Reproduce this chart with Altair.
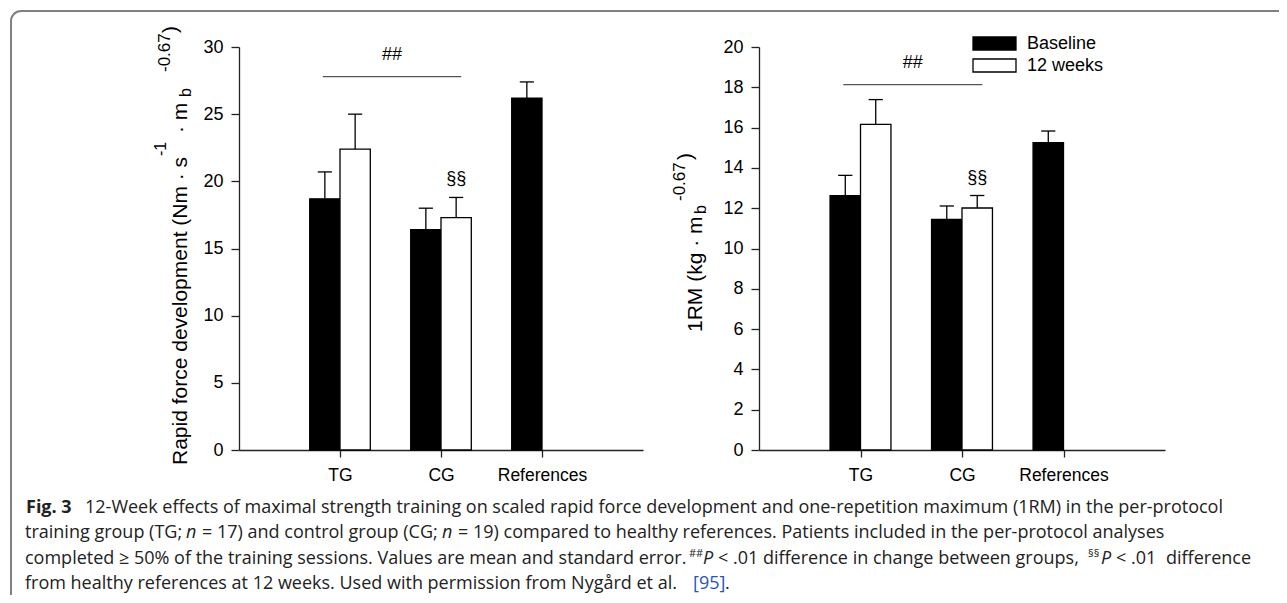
import json
import pandas as pd
import altair as alt

# ---------------- data ----------------
groups = ["TG", "CG", "References"]
periods = ["Baseline", "12 weeks"]
period_colors = ["#000000", "#ffffff"]

rfd_baseline = [18.7, 16.4, 26.2]
rfd_baseline_se = [2.0, 1.6, 1.2]
rfd_12w = [22.4, 17.3, None]
rfd_12w_se = [2.6, 1.5, None]

rm_baseline = [12.62, 11.44, 15.25]
rm_baseline_se = [1.01, 0.67, 0.58]
rm_12w = [16.16, 12.01, None]
rm_12w_se = [1.23, 0.62, None]

rfd_ticks = [0, 5, 10, 15, 20, 25, 30]
rm_ticks = [0, 2, 4, 6, 8, 10, 12, 14, 16, 18, 20]

# '##' bracket heights (between-group change) and '§§' group (vs references at 12 weeks)
rfd_bracket = 27.8
rm_bracket = 18.13
bracket_groups = ["TG", "CG"]
ref_diff_group = "CG"

# ---------------- layout (page pixel geometry) ----------------
PAD_L, PAD_B = 231, 145
W, H = 1271 - PAD_L, 442          # view: page x 239..1279, page y 8..450
PLOT_TOP, PLOT_BOTTOM = 39, 442
LEFT_X = [0, 404]
RIGHT_X = [520, 926]
BAR_W = 0.3
CAP = 0.07
AXFONT = "Liberation Sans"
CAPFONT = "Open Sans"
INK = "#222222"


def cx(xp):
    return xp - 239


def cy(yp):
    return yp - 8


label_expr = json.dumps([""] + groups + [""]) + "[datum.value]"


def build_df(base, base_se, wk, wk_se):
    rows = []
    for i, g in enumerate(groups):
        for p, v, se in ((periods[0], base[i], base_se[i]), (periods[1], wk[i], wk_se[i])):
            if v is None:
                continue
            x0 = (i + 1) - BAR_W if p == periods[0] else (i + 1)
            xc = x0 + BAR_W / 2
            rows.append(dict(group=g, period=p, value=v, upper=v + se,
                             x0=x0, x1=x0 + BAR_W, xc=xc, cl=xc - CAP, cr=xc + CAP))
    return pd.DataFrame(rows)


def panel(df, ymax, yticks, xr, bracket_y):
    def xs():
        return alt.Scale(domain=[0, 4], range=xr, nice=False, zero=False)

    def ys():
        return alt.Scale(domain=[0, ymax], range=[PLOT_BOTTOM, PLOT_TOP], nice=False)

    xaxis = alt.Axis(orient="bottom", values=[1, 2, 3],
                     labelExpr=label_expr, title=None, grid=False,
                     tickSize=7, labelPadding=9, labelFontSize=17.5)
    yaxis = alt.Axis(orient="left", offset=-xr[0], values=yticks, title=None,
                     grid=False, tickSize=8, labelPadding=8, labelFontSize=18)
    fill = alt.Fill("period:N", scale=alt.Scale(domain=periods, range=period_colors),
                    legend=None)
    base = alt.Chart(df)
    bars = base.mark_rect(stroke="black", strokeWidth=1.3).encode(
        x=alt.X("x0:Q", scale=xs(), axis=xaxis),
        x2=alt.X2("x1"),
        y=alt.Y("value:Q", scale=ys(), axis=yaxis),
        y2=alt.datum(0),
        fill=fill,
    )
    err = base.mark_rule(color="black", strokeWidth=1.3).encode(
        x=alt.X("xc:Q", scale=xs(), axis=None),
        y=alt.Y("value:Q", scale=ys(), axis=None),
        y2=alt.Y2("upper"),
    )
    caps = base.mark_rule(color="black", strokeWidth=1.3).encode(
        x=alt.X("cl:Q", scale=xs(), axis=None),
        x2=alt.X2("cr"),
        y=alt.Y("upper:Q", scale=ys(), axis=None),
    )
    i0 = groups.index(bracket_groups[0]) + 1
    i1 = groups.index(bracket_groups[1]) + 1
    bdf = pd.DataFrame({"b0": [i0 - BAR_W + 0.13], "b1": [i1 + BAR_W - 0.1], "y": [bracket_y]})
    bdf["bm"] = (bdf["b0"] + bdf["b1"]) / 2
    bracket = alt.Chart(bdf).mark_rule(color="#555555", strokeWidth=1.3).encode(
        x=alt.X("b0:Q", scale=xs(), axis=None), x2=alt.X2("b1"),
        y=alt.Y("y:Q", scale=ys(), axis=None),
    )
    hashes = alt.Chart(bdf).mark_text(text="##", font=AXFONT, fontSize=18, color="black",
                                      baseline="middle", dy=-22).encode(
        x=alt.X("bm:Q", scale=xs(), axis=None),
        y=alt.Y("y:Q", scale=ys(), axis=None),
    )
    sect = alt.Chart(df).transform_filter(
        (alt.datum.group == ref_diff_group) & (alt.datum.period == periods[1])
    ).mark_text(text="§§", font=AXFONT, fontSize=18, color="black",
                baseline="middle", dy=-18).encode(
        x=alt.X("xc:Q", scale=xs(), axis=None),
        y=alt.Y("upper:Q", scale=ys(), axis=None),
    )
    return [bars, err, caps, bracket, hashes, sect]


left = panel(build_df(rfd_baseline, rfd_baseline_se, rfd_12w, rfd_12w_se), 30, rfd_ticks, LEFT_X, rfd_bracket)
right = panel(build_df(rm_baseline, rm_baseline_se, rm_12w, rm_12w_se), 20, rm_ticks, RIGHT_X, rm_bracket)

ONE = pd.DataFrame({"d": [0]})


def txt(s, xp, yp, size, angle=0, weight="normal", style="normal", color=INK,
        font=AXFONT, align="left", baseline="alphabetic"):
    """Annotation text placed at page coordinates (xp, yp)."""
    return alt.Chart(ONE).mark_text(
        text=s, angle=angle, fontSize=size, font=font, fontWeight=weight,
        fontStyle=style, color=color, align=align, baseline=baseline,
    ).encode(x=alt.value(cx(xp)), y=alt.value(cy(yp)))


border = alt.Chart(ONE).mark_rect(
    fill="transparent", stroke="#808080", strokeWidth=2, cornerRadius=10
).encode(x=alt.value(cx(11)), x2=alt.value(cx(1310)), y=alt.value(cy(11)), y2=alt.value(cy(612)))

# legend (Baseline / 12 weeks), drawn as swatches beside the right panel
legend_marks = []
for i, (p, c) in enumerate(zip(periods, period_colors)):
    top = 37 + 22 * i
    legend_marks.append(
        alt.Chart(ONE).mark_rect(fill=c, stroke="black", strokeWidth=1.3).encode(
            x=alt.value(cx(973)), x2=alt.value(cx(1016)),
            y=alt.value(cy(top)), y2=alt.value(cy(top + 13)))
    )
    legend_marks.append(txt(p, 1027, top + 6.5, 18, color="black", baseline="middle"))

titles = [
    # left y title
    txt("Rapid force development (Nm · s", 187, 465, 21, angle=270, color="black"),
    txt("-1", 166, 156, 16, angle=270, color="black"),
    txt("· m", 187, 133, 21, angle=270, color="black"),
    txt("b", 191, 97, 16, angle=270, color="black"),
    txt("-0.67", 170, 72, 17, angle=270, color="black"),
    txt(")", 177, 33, 21, angle=270, color="black"),
    # right y title
    txt("1RM (kg · m", 702, 332, 21, angle=270, color="black"),
    txt("b", 706, 214, 16, angle=270, color="black"),
    txt("-0.67", 685, 201, 17, angle=270, color="black"),
    txt(")", 692, 160, 21, angle=270, color="black"),
]

CS = 18
SUP = 11
L2 = 25
captions = [
    txt("Fig. 3", 26, 513, CS, weight="bold", font=CAPFONT),
    txt("12-Week effects of maximal strength training on scaled rapid force development and one-repetition maximum (1RM) in the per-protocol",
        85, 513, CS, font=CAPFONT),
    txt("training group (TG;", L2, 538, CS, font=CAPFONT),
    txt("n", L2 + 161, 538, CS, style="italic", font=CAPFONT),
    txt("= 17) and control group (CG;", L2 + 177, 538, CS, font=CAPFONT),
    txt("n", L2 + 417, 538, CS, style="italic", font=CAPFONT),
    txt("= 19) compared to healthy references. Patients included in the per-protocol analyses",
        L2 + 433, 538, CS, font=CAPFONT),
    txt("completed ≥ 50% of the training sessions. Values are mean and standard error.", L2, 564, CS, font=CAPFONT),
    txt("##", 689, 557, SUP, font=CAPFONT),
    txt("P", 703, 564, CS, style="italic", font=CAPFONT),
    txt("< .01 difference in change between groups,", 718, 564, CS, font=CAPFONT),
    txt("§§", 1088, 557, SUP, font=CAPFONT),
    txt("P", 1101, 564, CS, style="italic", font=CAPFONT),
    txt("< .01", 1116, 564, CS, font=CAPFONT),
    txt("difference", 1166, 564, CS, font=CAPFONT),
    txt("from healthy references at 12 weeks. Used with permission from Nygård et al.", L2, 589, CS, font=CAPFONT),
    txt("[95]", 693, 589, CS, color="#2a52be", font=CAPFONT),
    txt(".", 725, 589, CS, font=CAPFONT),
]

chart = alt.layer(border, *left, *right, *legend_marks, *titles, *captions).resolve_scale(
    x="independent", y="independent"
).properties(
    width=W, height=H, autosize=alt.AutoSizeParams(type="none"),
    padding={"left": PAD_L, "top": 0, "right": 0, "bottom": PAD_B},
).configure_view(stroke=None).configure_axis(
    domainColor="#222222", tickColor="#222222", domainWidth=1.3, tickWidth=1.3,
    labelColor="black", labelFont=AXFONT,
)

chart.save("out.html", embed_options={"renderer": "svg", "actions": False})
